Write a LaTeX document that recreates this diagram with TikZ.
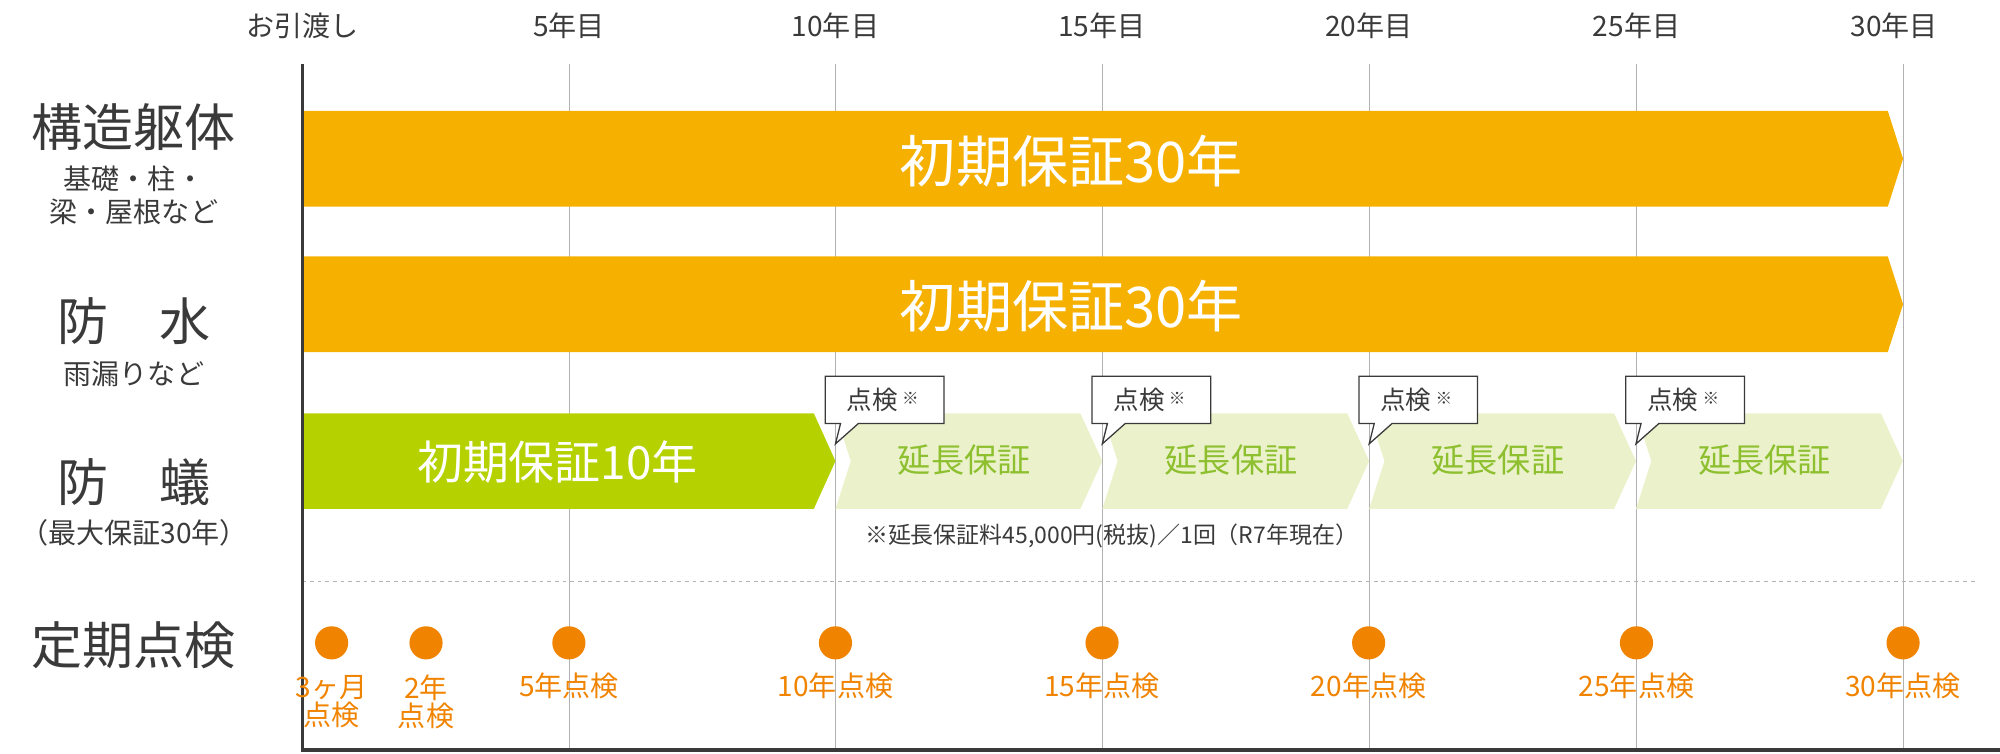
\documentclass[tikz,border=0pt]{standalone}
\usepackage{fontspec}
\setmainfont{Noto Sans CJK JP}
\definecolor{txt}{HTML}{3A3A3A}
\definecolor{gold}{HTML}{F5B000}
\definecolor{lime}{HTML}{B5D200}
\definecolor{pale}{HTML}{EBF2CB}
\definecolor{ltgreen}{HTML}{8DBF2F}
\definecolor{dot}{HTML}{F08300}
\newcommand{\fs}[1]{\fontsize{#1}{#1}\selectfont}
\begin{document}
\begin{tikzpicture}[x=1pt,y=-1pt,
  lbl/.style={text=txt,inner sep=0pt,align=center},
  hdr/.style={text=txt,inner sep=0pt,font=\fs{22}},
  bartxt/.style={text=white,inner sep=0pt,font=\fs{44}},
  exttxt/.style={text=ltgreen,inner sep=0pt,font=\fs{26}},
  callout/.style={draw=txt,fill=white,line width=1pt},
  dotc/.style={circle,fill=dot,minimum size=26pt,inner sep=0pt},
  dotl/.style={text=dot,inner sep=0pt,font=\fs{22},align=center}]
\useasboundingbox (0,0) rectangle (1568,591);
% grid
\foreach \i in {1,...,6}{\draw[gray!60,line width=0.8pt] ({237+209.2*\i},50) -- ({237+209.2*\i},588);}
% headers
\node[hdr] (h0) at (237,20) {お引渡し};
\node[hdr] (h1) at (446,20) {5年目};
\node[hdr] (h2) at (655,20) {10年目};
\node[hdr] (h3) at (864,20) {15年目};
\node[hdr] (h4) at (1073,20) {20年目};
\node[hdr] (h5) at (1283,20) {25年目};
\node[hdr] (h6) at (1485,20) {30年目};
% bars
\fill[gold] (237,87) -- (1480,87) -- (1492,124.5) -- (1480,162) -- (237,162) -- cycle;
\node[bartxt] (b1) at (840,126) {初期保証30年};
\fill[gold] (237,201) -- (1480,201) -- (1492,238.5) -- (1480,276) -- (237,276) -- cycle;
\node[bartxt] (b2) at (840,240) {初期保証30年};
\fill[lime] (237,324) -- (638,324) -- (655,361.5) -- (638,399) -- (237,399) -- cycle;
\node[bartxt,font=\fs{36}] (b3) at (437,362) {初期保証10年};
\foreach \i/\n in {0/e1,1/e2,2/e3,3/e4}{
  \pgfmathsetmacro{\xa}{655+209.2*\i}
  \fill[pale] (\xa,324) -- ({\xa+192},324) -- ({\xa+209.2},361.5) -- ({\xa+192},399) -- (\xa,399) -- ({\xa+12},361.5) -- cycle;
  \node[exttxt] (\n) at ({\xa+101},361) {延長保証};
  \draw[callout] ({\xa-8},295) -- ({\xa+85},295) -- ({\xa+85},332) -- ({\xa+18},332) -- (\xa,348) -- ({\xa+4},332) -- ({\xa-8},332) -- cycle;
  \node[text=txt,inner sep=0pt,font=\fs{20}] (c\n) at ({\xa+37},313.5) {点検\,{\fs{13}\raisebox{4pt}{※}}};
}
\node[text=txt,inner sep=0pt,font=\fs{18},anchor=west] (note) at (678,420) {※延長保証料45,000円(税抜)／1回（R7年現在）};
% dashed
\draw[gray!60,dashed,line width=0.8pt] (237,456) -- (1550,456);
% axes
\draw[txt,line width=2.5pt] (237,50) -- (237,588) -- (1568,588);
% left labels
\node[lbl,font=\fs{40}] (l1) at (105,100) {構造躯体};
\node[lbl,font=\fs{22}] (l1a) at (105,140) {基礎・柱・};
\node[lbl,font=\fs{22}] (l1b) at (105,166) {梁・屋根など};
\node[lbl,font=\fs{40}] (l2) at (105,252) {防\hspace{1em}水};
\node[lbl,font=\fs{22}] (l2a) at (105,293) {雨漏りなど};
\node[lbl,font=\fs{40}] (l3) at (105,378) {防\hspace{1em}蟻};
\node[lbl,font=\fs{22}] (l3a) at (105,418) {（最大保証30年）};
\node[lbl,font=\fs{40}] (l4) at (105,506) {定期点検};
% dots
\foreach \x/\n in {260/d1,334/d2,446/d3,655/d4,864/d5,1073/d6,1283/d7,1492/d8}{\node[dotc] (\n) at (\x,504) {};}
\node[dotl] (t1) at (260,550) {3ヶ月\\点検};
\node[dotl] (t2) at (334,550) {2年\\点検};
\node[dotl] (t3) at (446,538) {5年点検};
\node[dotl] (t4) at (655,538) {10年点検};
\node[dotl] (t5) at (864,538) {15年点検};
\node[dotl] (t6) at (1073,538) {20年点検};
\node[dotl] (t7) at (1283,538) {25年点検};
\node[dotl] (t8) at (1492,538) {30年点検};
\end{tikzpicture}
\end{document}
